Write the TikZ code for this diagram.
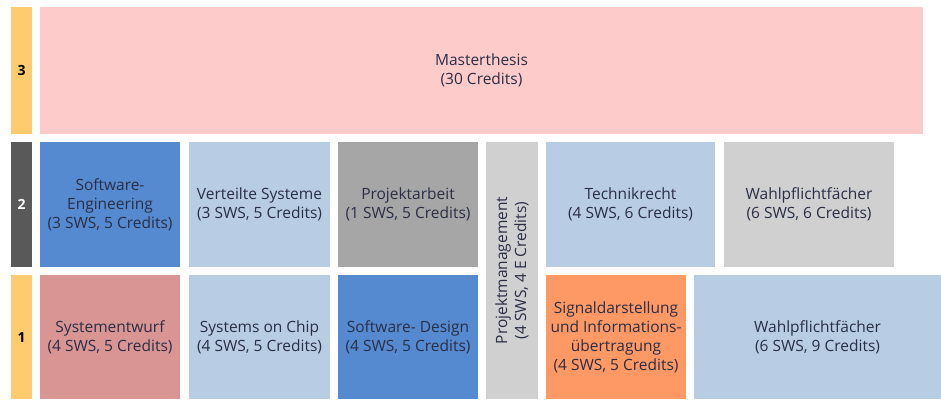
\documentclass[tikz,border=0pt]{standalone}
\usepackage{fontspec}
\setmainfont{Open Sans}
\definecolor{barY}{HTML}{FECB6F}
\definecolor{barD}{HTML}{595959}
\definecolor{pinkM}{HTML}{FDCBCA}
\definecolor{blueD}{HTML}{558AD0}
\definecolor{blueL}{HTML}{B8CCE4}
\definecolor{greyD}{HTML}{A6A6A6}
\definecolor{greyL}{HTML}{D0D0D0}
\definecolor{roseS}{HTML}{D99594}
\definecolor{orangeS}{HTML}{FE9966}
\definecolor{txt}{HTML}{2A2E45}
\tikzset{
  cell/.style={inner sep=0pt, outer sep=0pt, align=center, text=txt,
    font=\fontsize{15.5}{19}\selectfont},
  bar/.style={cell, font=\fontsize{14}{17}\selectfont\bfseries, text=black}
}
\begin{document}
\begin{tikzpicture}[x=1pt,y=-1pt]
\useasboundingbox (0,0) rectangle (941,399);
% row 3
\node[bar, fill=barY, minimum width=21pt, minimum height=127pt] (b3) at (21.5,70.5) {3};
\node[cell, fill=pinkM, minimum width=883pt, minimum height=127pt] (mt) at (481.5,70.5) {Masterthesis\\(30 Credits)};
% row 2
\node[bar, fill=barD, text=white, minimum width=21pt, minimum height=125pt] (b2) at (21.5,204.5) {2};
\node[cell, fill=blueD, minimum width=140pt, minimum height=125pt] (se) at (110,204.5) {Software-\\Engineering\\(3 SWS, 5 Credits)};
\node[cell, fill=blueL, minimum width=141pt, minimum height=125pt] (vs) at (259.5,204.5) {Verteilte Systeme\\(3 SWS, 5 Credits)};
\node[cell, fill=greyD, minimum width=140pt, minimum height=125pt] (pa) at (408,204.5) {Projektarbeit\\(1 SWS, 5 Credits)};
\node[cell, fill=greyL, minimum width=52pt, minimum height=257pt] (pm) at (512,270.5) {};
\node[cell, rotate=90] (pmt) at (pm.center) {Projektmanagement\\(4 SWS, 4 E Credits)};
\node[cell, fill=blueL, minimum width=169pt, minimum height=125pt] (tr) at (630.5,204.5) {Technikrecht\\(4 SWS, 6 Credits)};
\node[cell, fill=greyL, minimum width=170pt, minimum height=125pt] (wp2) at (809,204.5) {Wahlpflichtfächer\\(6 SWS, 6 Credits)};
% row 1
\node[bar, fill=barY, minimum width=21pt, minimum height=124pt] (b1) at (21.5,337) {1};
\node[cell, fill=roseS, minimum width=140pt, minimum height=124pt] (sys) at (110,337) {Systementwurf\\(4 SWS, 5 Credits)};
\node[cell, fill=blueL, minimum width=141pt, minimum height=124pt] (soc) at (259.5,337) {Systems on Chip\\(4 SWS, 5 Credits)};
\node[cell, fill=blueD, minimum width=140pt, minimum height=124pt] (sd) at (408,337) {Software- Design\\(4 SWS, 5 Credits)};
\node[cell, fill=orangeS, minimum width=140pt, minimum height=124pt] (sig) at (616,337) {Signaldarstellung\\und Informations-\\übertragung\\(4 SWS, 5 Credits)};
\node[cell, fill=blueL, minimum width=247pt, minimum height=124pt] (wp1) at (817.5,337) {Wahlpflichtfächer\\(6 SWS, 9 Credits)};
\end{tikzpicture}
\end{document}
